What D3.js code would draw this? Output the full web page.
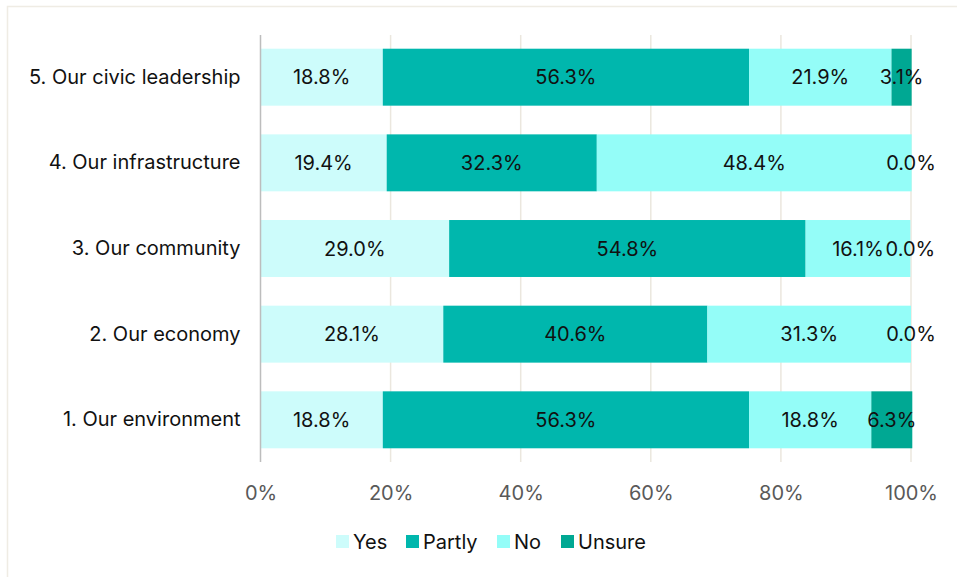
<!DOCTYPE html>
<html>
<head>
<meta charset="utf-8">
<script src="https://cdn.jsdelivr.net/npm/d3@7"></script>
<style>
  html, body { margin: 0; padding: 0; background: #fff; }
  svg { display: block; font-family: Inter, "Liberation Sans", Arial, sans-serif; }
</style>
</head>
<body>
<svg id="chart" width="957" height="577"></svg>
<script>
// Survey categories, bottom to top as listed
const categories = [
  "1. Our environment",
  "2. Our economy",
  "3. Our community",
  "4. Our infrastructure",
  "5. Our civic leadership"
];
const seriesNames = ["Yes", "Partly", "No", "Unsure"];
const yesValues    = [18.8, 28.1, 29.0, 19.4, 18.8];
const partlyValues = [56.3, 40.6, 54.8, 32.3, 56.3];
const noValues     = [18.8, 31.3, 16.1, 48.4, 21.9];
const unsureValues = [6.3, 0.0, 0.0, 0.0, 3.1];
const xTicks = [0, 20, 40, 60, 80, 100];
const colors = ["#cdfcfb", "#00b7ad", "#94fdf8", "#00a893"];

const seriesValues = [yesValues, partlyValues, noValues, unsureValues];
const rows = categories.map((c, i) => {
  const r = { category: c };
  seriesNames.forEach((s, k) => { r[s] = seriesValues[k][i]; });
  return r;
});

const FONT = "Inter, Liberation Sans, Arial, sans-serif";
const FS = 20;

const svg = d3.select("#chart");

// outer frame
svg.append("rect")
  .attr("x", 7.5).attr("y", 6.5)
  .attr("width", 980).attr("height", 600)
  .attr("fill", "none").attr("stroke", "#efece4").attr("stroke-width", 1.5);

const x = d3.scaleLinear().domain([0, 100]).range([260.5, 911]);
const y = d3.scaleBand()
  .domain(categories.slice().reverse())
  .range([35, 462])
  .paddingInner(0.335)
  .paddingOuter(0.16);

// vertical gridlines
svg.append("g").selectAll("line")
  .data(xTicks.slice(1))
  .join("line")
  .attr("x1", d => x(d)).attr("x2", d => x(d))
  .attr("y1", 35).attr("y2", 462)
  .attr("stroke", "#ebe7de").attr("stroke-width", 1.5);

const stack = d3.stack().keys(seriesNames)(rows);

const layers = svg.append("g").selectAll("g")
  .data(stack)
  .join("g")
  .attr("fill", (d, i) => colors[i]);

layers.selectAll("rect")
  .data(d => d)
  .join("rect")
  .attr("x", d => x(d[0]))
  .attr("y", d => y(d.data.category))
  .attr("width", d => x(d[1]) - x(d[0]))
  .attr("height", y.bandwidth());

// zero axis line
svg.append("line")
  .attr("x1", x(0)).attr("x2", x(0))
  .attr("y1", 35).attr("y2", 462)
  .attr("stroke", "#bdbdbd").attr("stroke-width", 1.5);

// value labels centred in each segment
const labels = svg.append("g")
  .attr("font-size", FS)
  .attr("fill", "#111")
  .attr("text-anchor", "middle");
stack.forEach(layer => {
  labels.selectAll(null)
    .data(layer)
    .join("text")
    .attr("x", d => Math.min(x((d[0] + d[1]) / 2), 911))
    .attr("y", d => y(d.data.category) + y.bandwidth() / 2)
    .attr("dy", "0.35em")
    .text(d => (d[1] - d[0]).toFixed(1) + "%");
});

// category axis
const yAxis = d3.axisLeft(y).tickSize(0).tickPadding(20);
svg.append("g")
  .attr("transform", `translate(${x(0)},0)`)
  .call(yAxis)
  .call(g => g.select(".domain").remove())
  .call(g => g.selectAll("text")
    .attr("font-size", FS)
    .attr("fill", "#111")
    .attr("font-family", FONT));

// percentage axis
const xAxis = d3.axisBottom(x).tickValues(xTicks).tickSize(0).tickPadding(24)
  .tickFormat(d => d + "%");
svg.append("g")
  .attr("transform", "translate(0,462)")
  .call(xAxis)
  .call(g => g.select(".domain").remove())
  .call(g => g.selectAll("text")
    .attr("font-size", FS)
    .attr("fill", "#595959")
    .attr("font-family", FONT));

// legend
const legendX = [336, 406, 497, 561];
const legend = svg.append("g").selectAll("g")
  .data(seriesNames)
  .join("g")
  .attr("transform", (d, i) => `translate(${legendX[i]},535)`);
legend.append("rect")
  .attr("width", 13).attr("height", 13)
  .attr("fill", (d, i) => colors[i]);
legend.append("text")
  .attr("x", 17).attr("y", 7).attr("dy", "0.35em")
  .attr("font-size", FS).attr("fill", "#111")
  .text(d => d);
</script>
</body>
</html>
